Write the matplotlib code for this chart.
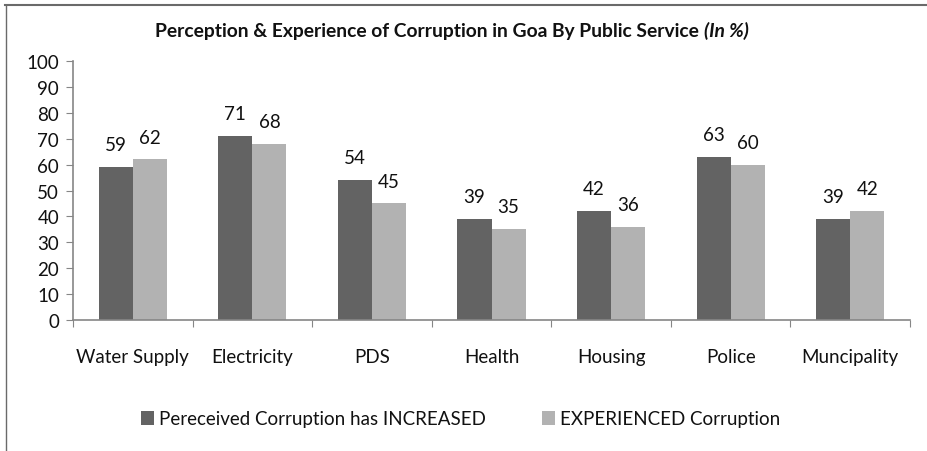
import matplotlib
matplotlib.use("Agg")
import matplotlib.pyplot as plt
import numpy as np
from matplotlib.lines import Line2D

categories = ["Water Supply", "Electricity", "PDS", "Health", "Housing", "Police", "Muncipality"]
perceived = [59, 71, 54, 39, 42, 63, 39]
experienced = [62, 68, 45, 35, 36, 60, 42]
series_names = ["Pereceived Corruption has INCREASED", "EXPERIENCED Corruption"]
yticks = [0, 10, 20, 30, 40, 50, 60, 70, 80, 90, 100]

plt.rcParams['font.family'] = ['Lato', 'DejaVu Sans']

W, H = 927, 452
FS = 13.5
fig = plt.figure(figsize=(W / 100, H / 100), dpi=100)
ax = fig.add_axes([73 / W, 1 - 321 / H, (910 - 73) / W, (321 - 62) / H])

dark = "#636363"
light = "#b2b2b2"
txtc = "#111111"
x = np.arange(len(categories))
bw = 0.285
b1 = ax.bar(x - bw / 2, perceived, bw, color=dark, label=series_names[0])
b2 = ax.bar(x + bw / 2, experienced, bw, color=light, label=series_names[1])
for bars, vals in ((b1, perceived), (b2, experienced)):
    for r, v in zip(bars, vals):
        ax.annotate(str(v), (r.get_x() + r.get_width() / 2, v), xytext=(0, 10),
                    textcoords="offset points", ha="center", va="bottom",
                    fontsize=FS, color=txtc)

ax.set_xlim(-0.5, len(categories) - 0.5)
ax.set_ylim(0, 100)
ax.set_yticks(yticks)
ax.set_yticklabels([str(t) for t in yticks], fontsize=FS, color=txtc)
ax.set_xticks(np.arange(-0.5, len(categories), 1.0))
ax.set_xticklabels([])
ax.set_xticks(x, minor=True)
ax.set_xticklabels(categories, minor=True, fontsize=FS, color=txtc)
ax.tick_params(axis="x", which="minor", length=0, pad=20)
ax.tick_params(axis="x", which="major", length=5, color="#868686", direction="out")
ax.tick_params(axis="y", length=5, color="#868686", direction="out", pad=5)
for s in ("top", "right"):
    ax.spines[s].set_visible(False)
for s in ("left", "bottom"):
    ax.spines[s].set_color("#868686")
    ax.spines[s].set_linewidth(1.2)

# Title: bold part + bold italic part, centred together
t1 = fig.text(0, 1 - 31 / H, "Perception & Experience of Corruption in Goa By Public Service ",
              ha="left", va="center", fontsize=13.9, fontweight="bold", color=txtc)
t2 = fig.text(0, 1 - 31 / H, "(In %)", ha="left", va="center", fontsize=13.9,
              fontweight="bold", fontstyle="italic", color=txtc)
r = fig.canvas.get_renderer()
w1 = t1.get_window_extent(r).width
w2 = t2.get_window_extent(r).width
x0 = (452 - (w1 + w2) / 2) / W
t1.set_x(x0)
t2.set_x(x0 + w1 / W)

leg = fig.legend(handles=[b1, b2], loc="center", bbox_to_anchor=(0.497, 1 - 420 / H),
                 ncol=2, frameon=False, fontsize=FS, handlelength=0.7, handleheight=0.7,
                 handletextpad=0.25, columnspacing=3.0)
for t in leg.get_texts():
    t.set_color(txtc)

fig.add_artist(Line2D([5 / W, 1], [1 - 5.5 / H, 1 - 5.5 / H], transform=fig.transFigure,
                      color="#6a6a6a", lw=1.5))
fig.add_artist(Line2D([5.5 / W, 5.5 / W], [0, 1 - 5.5 / H], transform=fig.transFigure,
                      color="#6a6a6a", lw=1.0))

fig.savefig("out.png", dpi=100)
